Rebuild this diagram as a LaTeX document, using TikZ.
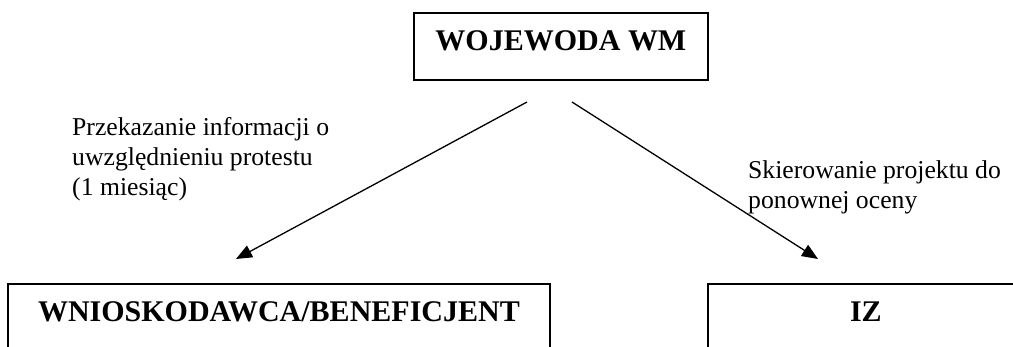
\documentclass[tikz,border=0pt]{standalone}
\usepackage{fontspec}
\setmainfont{Liberation Serif}
\usetikzlibrary{arrows.meta}
\begin{document}
\begin{tikzpicture}[x=1pt,y=-1pt,
  box/.style={draw, line width=1.8pt, inner sep=0pt, anchor=north west,
    text height=38pt, font=\fontsize{30}{34}\selectfont\bfseries},
  % anchor base west sits on the baseline of the last line
  note/.style={inner sep=0pt, align=left, anchor=base west,
    font=\fontsize{25.7}{30}\selectfont},
  link/.style={line width=1.3pt, -{Triangle[length=16pt,width=13pt]}}]
\useasboundingbox (0,0) rectangle (1013,346);
\clip (0,0) rectangle (1013,346);

% boxes (the lower two run past the bottom edge)
\node[box, minimum width=294pt, text depth=29pt] (woj) at (413,12) {WOJEWODA WM};
\node[box, minimum width=542pt, text depth=120pt] (wnio) at (7,283) {WNIOSKODAWCA/BENEFICJENT};
\node[box, minimum width=316pt, text depth=120pt] (iz) at (707,283) {IZ};

% free ends of the two connectors
\coordinate (fromL) at (527,102);
\coordinate (toL) at (236,259);
\coordinate (fromR) at (572,102);
\coordinate (toR) at (818,259);

\draw[link] (fromL) -- (toL);
\draw[link] (fromR) -- (toR);

% connector labels
\node[note] (noteL) at (72,195) {Przekazanie informacji o\\uwzględnieniu protestu\\(1 miesiąc)};
\node[note] (noteR) at (748,208) {Skierowanie projektu do\\ponownej oceny};
\end{tikzpicture}
\end{document}
